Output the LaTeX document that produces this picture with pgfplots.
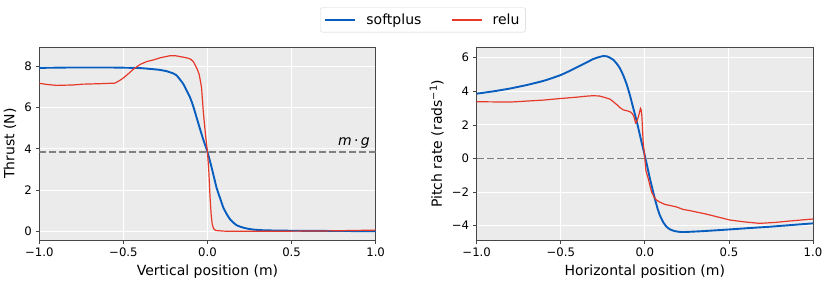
\documentclass[border=0pt]{standalone}
\usepackage{fontspec}
\setmainfont{DejaVu Sans}
\usepackage{pgfplots}
\pgfplotsset{compat=1.18}
\definecolor{bgc}{RGB}{235,235,235}
\definecolor{cblue}{RGB}{8,94,190}
\definecolor{cred}{RGB}{230,57,41}
\definecolor{cdash}{RGB}{128,128,128}
\definecolor{cframe}{RGB}{70,70,70}
\pgfplotsset{
  myaxis/.style={
    scale only axis,
    width=336.3pt, height=192.7pt,
    xmin=-1, xmax=1,
    axis background/.style={fill=bgc},
    grid=major,
    major grid style={white, line width=0.9pt},
    axis line style={cframe, line width=0.8pt},
    tick align=outside,
    major tick length=3.5pt,
    tick style={cframe, line width=0.8pt},
    xtick={-1,-0.5,0,0.5,1},
    xticklabels={−1.0,−0.5,0.0,0.5,1.0},
    tick label style={font=\fontsize{11.7}{13}\selectfont, text=black},
    label style={font=\fontsize{14}{16}\selectfont},
    xtick pos=bottom, ytick pos=left,
  }
}
\begin{document}
\fontsize{11.7}{14}\selectfont
\begin{tikzpicture}
\useasboundingbox (0,0) rectangle (830pt,284pt);
\begin{axis}[myaxis,
  at={(39.33pt,44pt)}, anchor=south west,
  ymin=-0.43, ymax=8.93,
  ytick={0,2,4,6,8},
  yticklabels={0,2,4,6,8},
  xlabel={Vertical position (m)},
  ylabel={Thrust (N)},
  legend columns=2,
  legend style={at={(1.1408,1.142)}, anchor=center, draw=black!18, rounded corners=2pt, fill=white,
    font=\fontsize{14}{16}\selectfont, inner xsep=4pt, inner ysep=4pt,
    /tikz/column 1/.style={column sep=8pt},
    /tikz/column 2/.style={column sep=28pt},
    /tikz/column 3/.style={column sep=8pt}},
  legend image code/.code={\draw[#1] (0pt,0pt) -- (30pt,0pt);},
]
\addplot[cblue, line width=1.9pt, smooth, tension=0.3] coordinates {
(-1,7.93) (-0.8,7.95) (-0.6,7.95) (-0.5,7.94) (-0.4,7.92) (-0.34,7.88) (-0.29,7.84)
(-0.243,7.77) (-0.2,7.65) (-0.183,7.56) (-0.144,7.15) (-0.104,6.5) (-0.084,6.05)
(-0.064,5.5) (-0.045,4.98) (-0.025,4.45) (0,3.85) (0.025,3.08) (0.054,2.11)
(0.075,1.6) (0.094,1.15) (0.115,0.82) (0.134,0.58) (0.153,0.42) (0.173,0.29)
(0.2,0.2) (0.233,0.13) (0.27,0.08) (0.312,0.05) (0.4,0.03) (0.5,0.02) (0.7,0.01) (1,0.0)
};
\addlegendentry{softplus}
\addplot[cred, line width=1.2pt] coordinates {
(-1,7.18) (-0.95,7.12) (-0.897,7.08) (-0.8,7.1) (-0.74,7.14) (-0.65,7.16) (-0.55,7.19)
(-0.52,7.33) (-0.5,7.44) (-0.47,7.65) (-0.44,7.87) (-0.40,8.1) (-0.36,8.24) (-0.32,8.32)
(-0.282,8.42) (-0.223,8.52) (-0.19,8.52) (-0.163,8.48) (-0.125,8.42) (-0.104,8.37)
(-0.085,8.25) (-0.074,8.08) (-0.06,7.85) (-0.049,7.6) (-0.04,7.2) (-0.035,6.95)
(-0.025,5.82) (-0.012,4.7) (0,3.85) (0.008,2.9) (0.015,1.7) (0.022,0.8) (0.028,0.35)
(0.036,0.12) (0.05,0.03) (0.1,0.0) (0.3,-0.01) (0.5,0.0) (0.7,0.01) (0.85,0.03) (1,0.05)
};
\addlegendentry{relu}
\addplot[cdash, line width=1.8pt, dash pattern=on 7pt off 3pt, forget plot] coordinates {(-1,3.84) (1,3.84)};
\node[anchor=base east, font=\fontsize{14}{16}\selectfont, inner sep=0pt] at (axis cs:0.966,4.18) {\textit{m}\,·\,\textit{g}};
\end{axis}
\begin{axis}[myaxis,
  at={(476.67pt,44pt)}, anchor=south west,
  ymin=-4.85, ymax=6.62,
  ytick={-4,-2,0,2,4,6},
  yticklabels={−4,−2,0,2,4,6},
  xlabel={Horizontal position (m)},
  ylabel={Pitch rate (rads\textsuperscript{−1})},
]
\addplot[cblue, line width=1.9pt, smooth, tension=0.3] coordinates {
(-1,3.86) (-0.9,4.0) (-0.8,4.17) (-0.7,4.38) (-0.6,4.63) (-0.505,4.95) (-0.45,5.2)
(-0.386,5.52) (-0.34,5.75) (-0.307,5.92) (-0.275,6.03) (-0.248,6.1) (-0.225,6.08)
(-0.208,6.0) (-0.188,5.88) (-0.168,5.66) (-0.148,5.37) (-0.129,4.97) (-0.109,4.45)
(-0.089,3.78) (-0.07,3.05) (-0.05,2.29) (-0.035,1.65) (-0.02,1.0) (0.004,0.0)
(0.03,-1.18) (0.059,-2.37) (0.075,-2.95) (0.089,-3.37) (0.11,-3.8) (0.129,-4.06)
(0.15,-4.22) (0.178,-4.32) (0.21,-4.37) (0.248,-4.37) (0.35,-4.32) (0.505,-4.22)
(0.62,-4.14) (0.743,-4.06) (0.87,-3.96) (1,-3.86)
};
\addplot[cred, line width=1.2pt] coordinates {
(-1,3.38) (-0.9,3.37) (-0.8,3.36) (-0.7,3.42) (-0.6,3.48) (-0.505,3.57) (-0.406,3.65)
(-0.35,3.71) (-0.307,3.74) (-0.27,3.72) (-0.248,3.66) (-0.208,3.54) (-0.19,3.4)
(-0.168,3.22) (-0.15,3.05) (-0.129,2.9) (-0.105,2.84) (-0.089,2.79) (-0.075,2.68)
(-0.065,2.5) (-0.055,2.12) (-0.048,2.2) (-0.038,2.49) (-0.026,2.98) (-0.022,2.9)
(-0.018,2.59) (-0.014,1.8) (-0.010,1.0) (0.0,0.0) (0.006,-0.7) (0.012,-0.92)
(0.02,-1.18) (0.03,-1.6) (0.04,-1.98) (0.055,-2.3) (0.069,-2.47) (0.09,-2.6)
(0.119,-2.73) (0.188,-2.88) (0.228,-3.03) (0.267,-3.1) (0.366,-3.31) (0.45,-3.52)
(0.505,-3.66) (0.6,-3.78) (0.683,-3.86) (0.78,-3.8) (0.861,-3.72) (1,-3.6)
};
\addplot[cdash, line width=1.8pt, dash pattern=on 7pt off 3pt] coordinates {(-1,0) (1,0)};
\end{axis}
\end{tikzpicture}
\end{document}
